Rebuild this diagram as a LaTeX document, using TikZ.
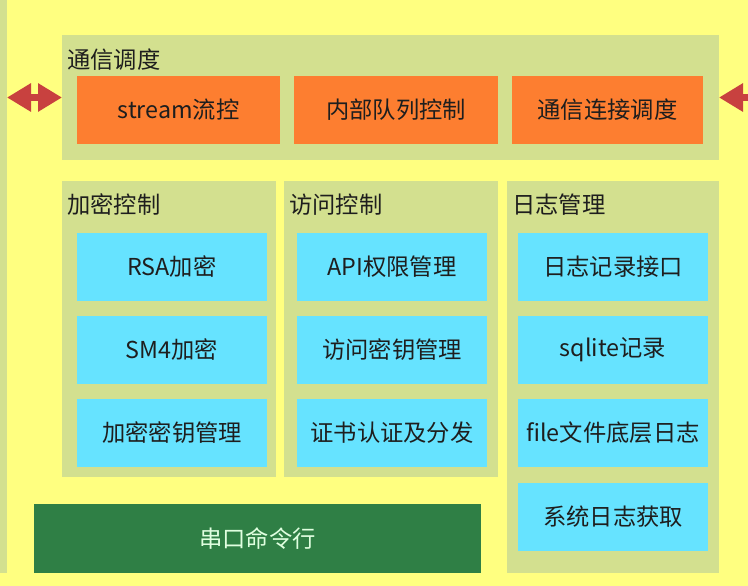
\documentclass[tikz,border=0pt]{standalone}
\usepackage{fontspec}
\setmainfont{Noto Sans CJK SC}
\usetikzlibrary{arrows.meta}
\definecolor{bgyellow}{HTML}{FFFF80}
\definecolor{panelgreen}{HTML}{D3E08F}
\definecolor{orangebox}{HTML}{FD7E30}
\definecolor{cyanbox}{HTML}{66E3FF}
\definecolor{darkgreen}{HTML}{2F7F45}
\definecolor{arrowred}{HTML}{C8413F}
\definecolor{txt}{HTML}{1E1E1E}
\tikzset{
  base/.style={rectangle, inner sep=0pt, outer sep=0pt, anchor=north west, font=\fontsize{23.3}{27}\selectfont},
  panel/.style={base, fill=panelgreen},
  obox/.style={base, fill=orangebox, text=txt},
  cbox/.style={base, fill=cyanbox, text=txt},
  gbox/.style={base, fill=darkgreen, text=white!88!green},
  ptitle/.style={inner sep=0pt, anchor=west, text=txt, font=\fontsize{23.3}{27}\selectfont},
  redarrow/.style={line width=7pt, draw=arrowred},
  rtip/.tip={Triangle[length=24pt, width=27pt, fill=arrowred]}
}
\begin{document}
\begin{tikzpicture}[x=1pt,y=-1pt]
\fill[bgyellow] (0,0) rectangle (748,586);
\useasboundingbox (0,0) rectangle (748,586);
\clip (0,0) rectangle (748,586);
% left strip
\node[panel, minimum width=7pt, minimum height=573pt] (strip) at (0,0) {};
% top panel
\node[panel, minimum width=657pt, minimum height=125pt] (top) at (62,35) {};
\node[ptitle] (ttop) at (67,60) {通信调度};
\node[obox, minimum width=203pt, minimum height=68pt] (o1) at (77,76) {stream流控};
\node[obox, minimum width=204pt, minimum height=68pt] (o2) at (294,76) {内部队列控制};
\node[obox, minimum width=191pt, minimum height=68pt] (o3) at (512,76) {通信连接调度};
% arrows
\draw[redarrow, {rtip}-{rtip}] (strip.east |- top.west) -- (top.west);
\coordinate (rend) at (775,97.5);
\draw[redarrow, -{rtip}] (rend) -- (top.east);
% middle panels
\node[panel, minimum width=214pt, minimum height=296pt] (p1) at (62,181) {};
\node[panel, minimum width=214pt, minimum height=296pt] (p2) at (284,181) {};
\node[panel, minimum width=212pt, minimum height=392pt] (p3) at (507,181) {};
\node[ptitle] (t1) at (67,205) {加密控制};
\node[ptitle] (t2) at (289,205) {访问控制};
\node[ptitle] (t3) at (512,205) {日志管理};
% column 1
\node[cbox, minimum width=190pt, minimum height=68pt] (c11) at (77,233) {RSA加密};
\node[cbox, minimum width=190pt, minimum height=68pt] (c12) at (77,316) {SM4加密};
\node[cbox, minimum width=190pt, minimum height=68pt] (c13) at (77,399) {加密密钥管理};
% column 2
\node[cbox, minimum width=190pt, minimum height=68pt] (c21) at (297,233) {API权限管理};
\node[cbox, minimum width=190pt, minimum height=68pt] (c22) at (297,316) {访问密钥管理};
\node[cbox, minimum width=190pt, minimum height=68pt] (c23) at (297,399) {证书认证及分发};
% column 3
\node[cbox, minimum width=190pt, minimum height=68pt] (c31) at (518,233) {日志记录接口};
\node[cbox, minimum width=190pt, minimum height=68pt] (c32) at (518,316) {sqlite记录};
\node[cbox, minimum width=190pt, minimum height=68pt] (c33) at (518,399) {file文件底层日志};
\node[cbox, minimum width=190pt, minimum height=68pt] (c34) at (518,483) {系统日志获取};
% bottom
\node[gbox, minimum width=447pt, minimum height=69pt] (cli) at (34,504) {串口命令行};
\end{tikzpicture}
\end{document}
